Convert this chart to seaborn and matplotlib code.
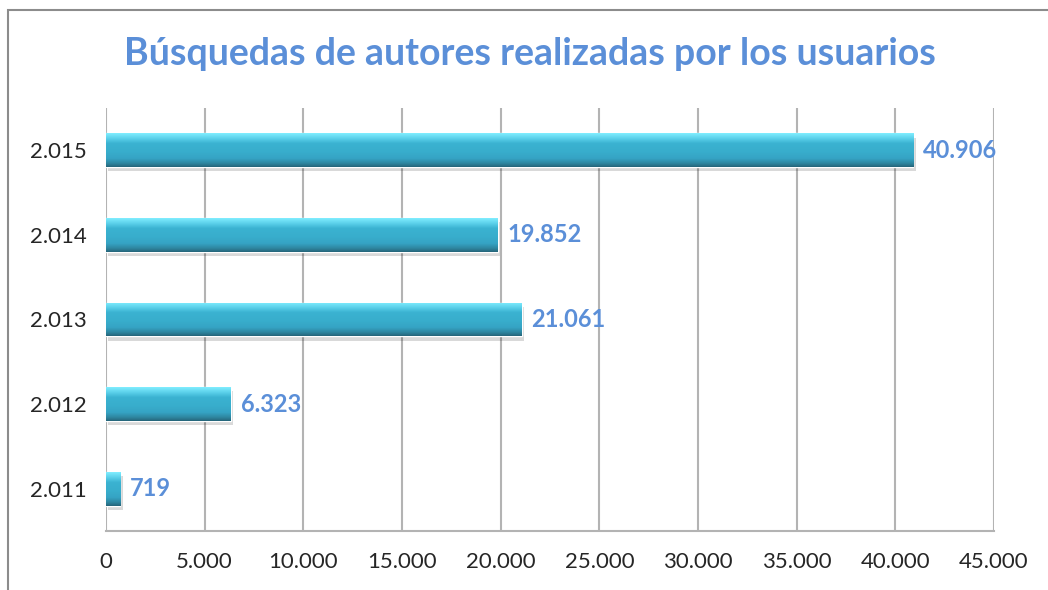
import numpy as np
import pandas as pd
import matplotlib
matplotlib.use("Agg")
import matplotlib.pyplot as plt
import seaborn as sns
from matplotlib.patches import Rectangle
from matplotlib.ticker import FuncFormatter, MultipleLocator

# datos
years = ["2.015", "2.014", "2.013", "2.012", "2.011"]
searches = [40906, 19852, 21061, 6323, 719]

df = pd.DataFrame({"anio": years, "busquedas": searches})

sns.set_style("white")
plt.rcParams["font.family"] = ["Lato", "DejaVu Sans"]

fmt = lambda v: f"{int(round(v)):,}".replace(",", ".")

fig = plt.figure(figsize=(10.48, 5.9), dpi=100)
ax = fig.add_axes([0.1011, 0.100, 0.8474, 0.717])

sns.barplot(data=df, x="busquedas", y="anio", orient="h", width=0.4,
            color="#3cb4d2", ax=ax, zorder=3)

# degradado tipo bisel de Excel
grad_cols = np.array([
    [0.50, 0.93, 1.00],
    [0.36, 0.82, 0.92],
    [0.23, 0.70, 0.82],
    [0.22, 0.68, 0.80],
    [0.21, 0.64, 0.77],
    [0.18, 0.52, 0.62],
    [0.15, 0.40, 0.48],
])
pos = np.array([0.0, 0.15, 0.3, 0.55, 0.75, 0.9, 1.0])
t = np.linspace(0, 1, 80)
grad = np.stack([np.interp(t, pos, grad_cols[:, k]) for k in range(3)], axis=-1)[:, None, :]

for p in ax.patches:
    x0, y0 = p.get_x(), p.get_y()
    w, h = p.get_width(), p.get_height()
    # sombra
    ax.add_patch(Rectangle((x0 + 120, y0 + 0.05), w, h, color="#000000",
                           alpha=0.15, lw=0, zorder=2))
    im = ax.imshow(grad, extent=[x0, x0 + w, y0 + h, y0], aspect="auto",
                   zorder=4, interpolation="bilinear")
    im.set_clip_path(p)

for i, v in enumerate(searches):
    ax.text(v + 500, i, fmt(v), va="center", ha="left", color="#5b8fd8",
            fontsize=17, fontweight="bold", zorder=5)

ax.set_xlim(0, 45000)
ax.set_ylim(4.5, -0.5)
ax.xaxis.set_major_locator(MultipleLocator(5000))
ax.xaxis.set_major_formatter(FuncFormatter(lambda v, _: fmt(v)))
ax.grid(axis="x", color="#b3b3b3", lw=1.5, zorder=0)
ax.set_axisbelow(True)

for s in ["top", "right", "left"]:
    ax.spines[s].set_visible(False)
ax.spines["bottom"].set_color("#b3b3b3")
ax.spines["bottom"].set_linewidth(1.5)

ax.set_xlabel("")
ax.set_ylabel("")
ax.tick_params(axis="both", length=0, labelsize=16, labelcolor="#262626")
ax.tick_params(axis="x", pad=15)
ax.tick_params(axis="y", pad=14)

fig.text(0.506, 0.908, "Búsquedas de autores realizadas por los usuarios",
         ha="center", va="center", fontsize=27, fontweight="bold", color="#5b8fd8")

fig.patches.append(Rectangle((8 / 1048, -0.1), 1.2, 1 - 10 / 590 + 0.1,
                             transform=fig.transFigure, fill=False,
                             edgecolor="#8c8c8c", lw=1.5))

plt.savefig("out.png", dpi=100)
